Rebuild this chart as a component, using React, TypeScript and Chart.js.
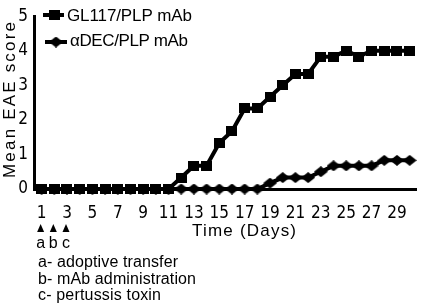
import React, { useEffect, useRef } from "react";
import { Chart, registerables } from "chart.js";

Chart.register(...registerables);

const days = [1, 2, 3, 4, 5, 6, 7, 8, 9, 10, 11, 12, 13, 14, 15, 16, 17, 18, 19, 20, 21, 22, 23, 24, 25, 26, 27, 28, 29, 30];
const gl117Scores = [0, 0, 0, 0, 0, 0, 0, 0, 0, 0, 0, 0.33, 0.67, 0.67, 1.33, 1.67, 2.33, 2.33, 2.67, 3, 3.33, 3.33, 3.83, 3.83, 4, 3.83, 4, 4, 4, 4];
const adecScores = [0, 0, 0, 0, 0, 0, 0, 0, 0, 0, 0, 0, 0, 0, 0, 0, 0, 0, 0.17, 0.33, 0.33, 0.33, 0.5, 0.67, 0.67, 0.67, 0.67, 0.83, 0.83, 0.83];
const seriesLabels = ["GL117/PLP mAb", "αDEC/PLP mAb"];
const xTickValues = [1, 3, 5, 7, 9, 11, 13, 15, 17, 19, 21, 23, 25, 27, 29];
const yTickValues = [0, 1, 2, 3, 4, 5];
const yTitle = "Mean EAE score";
const xTitle = "Time (Days)";
const eventDays = [1, 2, 3];
const eventLetters = ["a", "b", "c"];
const eventNotes = ["a- adoptive transfer", "b- mAb administration", "c- pertussis toxin"];

const TEXT_FONT = "'Liberation Sans', Arial, sans-serif";
const TICK_FONT = "'Liberation Sans Narrow', 'DejaVu Sans Condensed', sans-serif";

function makeSquare(w: number, h: number) {
  const c = document.createElement("canvas");
  c.width = w;
  c.height = h;
  const g = c.getContext("2d")!;
  g.fillStyle = "#000";
  g.fillRect(0, 0, w, h);
  return c;
}

function makeDiamond(w: number, h: number) {
  const c = document.createElement("canvas");
  c.width = w;
  c.height = h;
  const g = c.getContext("2d")!;
  g.fillStyle = "#000";
  g.beginPath();
  g.moveTo(w / 2, 0);
  g.lineTo(w, h / 2);
  g.lineTo(w / 2, h);
  g.lineTo(0, h / 2);
  g.closePath();
  g.fill();
  return c;
}

function fitText(ctx: CanvasRenderingContext2D, text: string, x: number, y: number, width: number, font: string) {
  ctx.font = font;
  (ctx as any).letterSpacing = "0px";
  const m = ctx.measureText(text).width;
  const n = Math.max(1, text.length - 1);
  const ls = Math.max(-1.5, (width - m) / n);
  (ctx as any).letterSpacing = ls + "px";
  ctx.textAlign = "left";
  ctx.textBaseline = "alphabetic";
  ctx.fillText(text, x, y);
  (ctx as any).letterSpacing = "0px";
}

export default function App() {
  const ref = useRef<HTMLCanvasElement | null>(null);

  useEffect(() => {
    if (!ref.current) return;
    const square = makeSquare(11, 10);
    const diamond = makeDiamond(14, 11);

    const extras = {
      id: "extras",
      afterDraw(chart: any) {
        const ctx: CanvasRenderingContext2D = chart.ctx;
        const xs = chart.scales.x;
        ctx.save();
        ctx.fillStyle = "#000";
        ctx.strokeStyle = "#000";

        // legend
        ctx.lineWidth = 4;
        ctx.beginPath();
        ctx.moveTo(43, 15);
        ctx.lineTo(64, 15);
        ctx.stroke();
        ctx.drawImage(square, 54 - 5.5, 15 - 5);
        ctx.beginPath();
        ctx.moveTo(45, 42);
        ctx.lineTo(67, 42);
        ctx.stroke();
        ctx.drawImage(diamond, 56 - 7, 42 - 5.5);
        fitText(ctx, seriesLabels[0], 67, 21, 125, `17px ${TEXT_FONT}`);
        fitText(ctx, seriesLabels[1], 70, 46, 118, `17px ${TEXT_FONT}`);

        // y title
        ctx.save();
        ctx.translate(15, 100);
        ctx.rotate(-Math.PI / 2);
        fitText(ctx, yTitle, -78, 0, 156, `17px ${TEXT_FONT}`);
        ctx.restore();

        // x title
        fitText(ctx, xTitle, 192, 236, 104, `17px ${TEXT_FONT}`);

        // event arrows and letters
        eventDays.forEach((d, i) => {
          const cx = xs.getPixelForValue(d) - 1;
          ctx.beginPath();
          ctx.moveTo(cx, 224);
          ctx.lineTo(cx + 3.5, 232);
          ctx.lineTo(cx - 3.5, 232);
          ctx.closePath();
          ctx.fill();
          ctx.font = `16px ${TEXT_FONT}`;
          ctx.textAlign = "center";
          ctx.textBaseline = "alphabetic";
          ctx.fillText(eventLetters[i], cx, 248);
        });

        const noteBaselines = [267, 284, 300];
        const noteWidths = [140, 158, 123];
        eventNotes.forEach((t, i) => {
          fitText(ctx, t, 38, noteBaselines[i], noteWidths[i], `16px ${TEXT_FONT}`);
        });
        ctx.restore();
      },
    };

    const chart = new Chart(ref.current, {
      type: "line",
      data: {
        datasets: [
          {
            label: seriesLabels[0],
            data: days.map((d, i) => ({ x: d, y: gl117Scores[i] })),
            borderColor: "#000",
            backgroundColor: "#000",
            borderWidth: 4,
            pointStyle: square as any,
            pointRadius: 6,
            tension: 0,
            clip: false as any,
          },
          {
            label: seriesLabels[1],
            data: days.map((d, i) => ({ x: d, y: adecScores[i] })),
            borderColor: "#000",
            backgroundColor: "#000",
            borderWidth: 4,
            pointStyle: diamond as any,
            pointRadius: 6,
            tension: 0,
            clip: false as any,
          },
        ],
      },
      options: {
        responsive: false,
        animation: false,
        devicePixelRatio: 1,
        layout: { padding: { left: 0, top: 11, right: 3, bottom: 0 } },
        plugins: { legend: { display: false }, tooltip: { enabled: false }, title: { display: false } },
        events: [],
        scales: {
          x: {
            type: "linear",
            min: 0.4,
            max: 30.5,
            afterBuildTicks: (s: any) => {
              s.ticks = xTickValues.map((v) => ({ value: v }));
            },
            afterFit: (s: any) => {
              s.height = 306 - 189;
            },
            grid: { display: false, drawTicks: false },
            border: { display: true, color: "#000", width: 3 },
            ticks: {
              autoSkip: false,
              maxRotation: 0,
              padding: 14,
              color: "#000",
              font: { family: TICK_FONT, size: 17 },
              callback: (v: any) => String(v),
            },
          },
          y: {
            type: "linear",
            min: 0,
            max: 5,
            afterBuildTicks: (s: any) => {
              s.ticks = yTickValues.map((v) => ({ value: v }));
            },
            afterFit: (s: any) => {
              s.width = 34;
            },
            grid: { display: false, drawTicks: false },
            border: { display: true, color: "#000", width: 3 },
            ticks: {
              padding: 6,
              color: "#000",
              font: { family: TICK_FONT, size: 17 },
              callback: (v: any) => String(v),
            },
          },
        },
      },
      plugins: [extras],
    });
    return () => chart.destroy();
  }, []);

  return (
    <div style={{ position: "absolute", left: 0, top: 0, width: 426, height: 306, background: "#fff" }}>
      <canvas ref={ref} width={426} height={306} style={{ display: "block" }} />
    </div>
  );
}
